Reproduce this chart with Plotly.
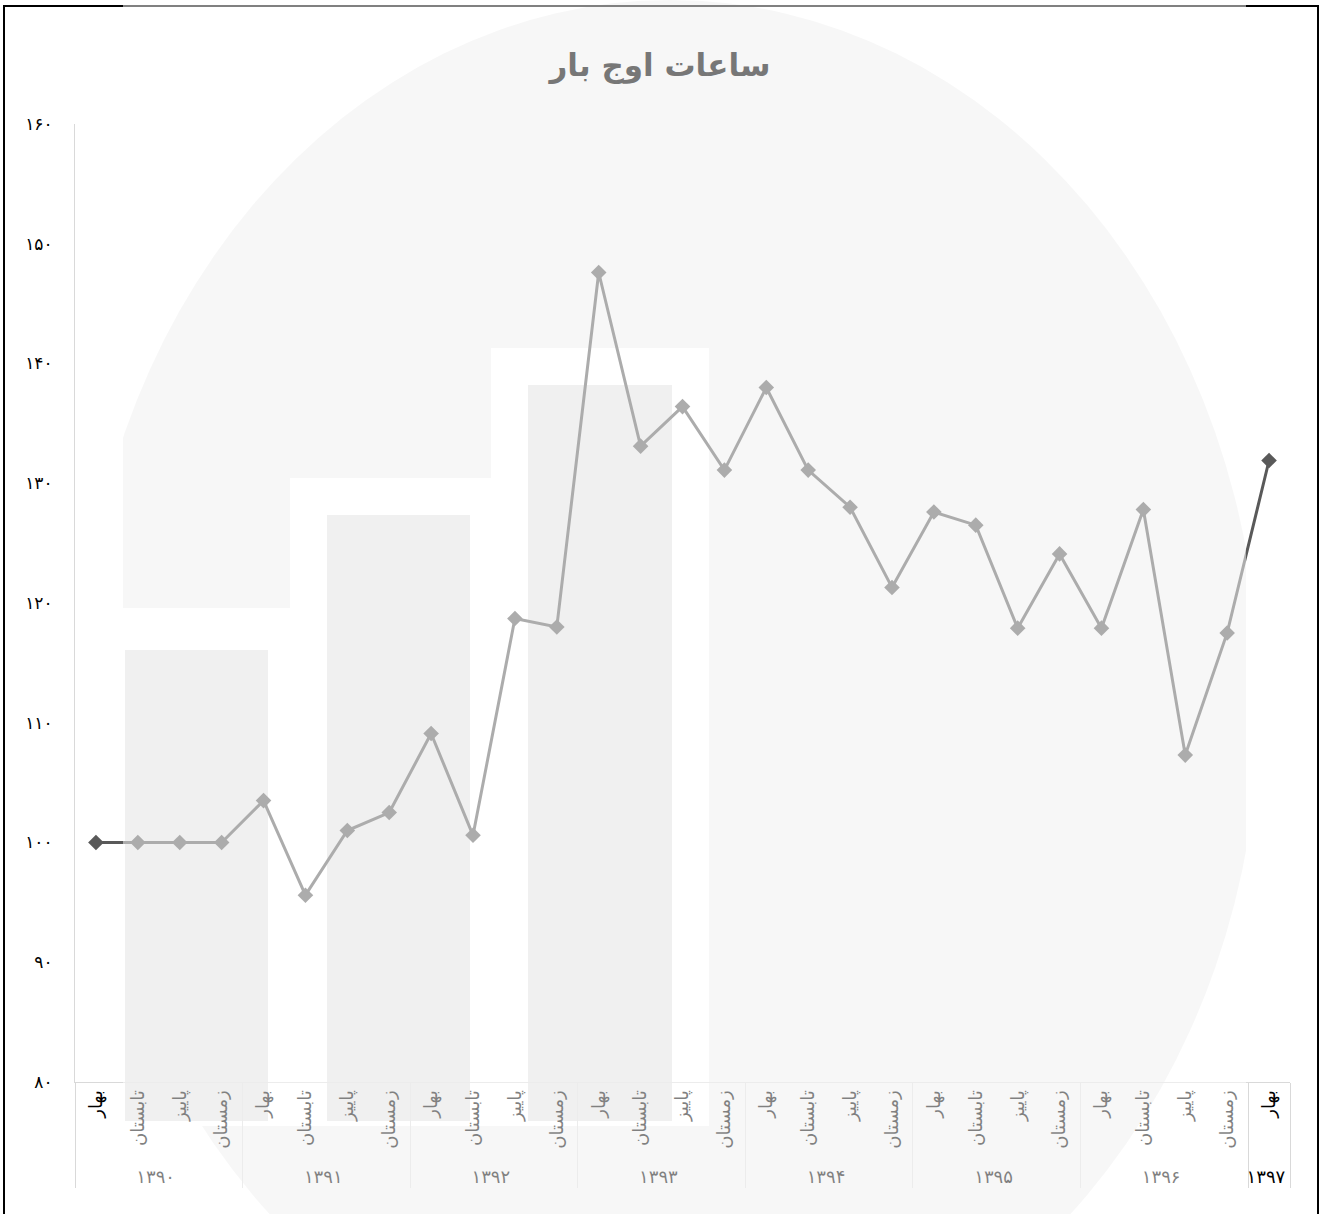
import plotly.graph_objects as go

# ---- data ----
years = ["۱۳۹۰", "۱۳۹۱", "۱۳۹۲", "۱۳۹۳", "۱۳۹۴", "۱۳۹۵", "۱۳۹۶", "۱۳۹۷"]
seasons = ["بهار", "تابستان", "پاییز", "زمستان"]
values = [100.0, 100.0, 100.0, 100.0,
          103.5, 95.6, 101.0, 102.5,
          109.1, 100.6, 118.7, 118.0,
          147.6, 133.1, 136.4, 131.1,
          138.0, 131.1, 128.0, 121.3,
          127.6, 126.5, 117.9, 124.1,
          117.9, 127.8, 107.3, 117.5,
          131.9]
y_tickvals = [80, 90, 100, 110, 120, 130, 140, 150, 160]
y_ticktext = ["۸۰", "۹۰", "۱۰۰", "۱۱۰", "۱۲۰", "۱۳۰", "۱۴۰", "۱۵۰", "۱۶۰"]
title_text = "ساعات اوج بار"

# build multicategory x from years/seasons
x_year, x_season = [], []
for i in range(len(values)):
    x_year.append(years[i // 4])
    x_season.append(seasons[i % 4])

W, H = 1320, 1214
L, R, T, B = 75, 30, 124, 132
PW, PH = W - L - R, H - T - B


def px(p):
    return (p - L) / PW


def py(p):
    return (H - B - p) / PH


FONT = "DejaVu Sans"

fig = go.Figure()
fig.add_trace(go.Scatter(
    x=[x_year, x_season], y=values, mode="lines+markers",
    line=dict(color="#595959", width=3),
    marker=dict(symbol="diamond", size=12, color="#595959"),
    showlegend=False, hoverinfo="skip"))

shapes = []
# watermark (below traces)
shapes.append(dict(type="circle", xref="paper", yref="paper", layer="below",
                   x0=px(80), x1=px(1260), y0=py(1400), y1=py(0),
                   fillcolor="rgb(239,239,239)", line=dict(width=0)))
frames = [(118, 305, 608), (290, 507, 478), (491, 709, 348)]
inner = [(125, 268, 650), (327, 470, 515), (528, 672, 385)]
for x0, x1, top in frames:
    shapes.append(dict(type="rect", xref="paper", yref="paper", layer="below",
                       x0=px(x0), x1=px(x1), y0=py(1126), y1=py(top),
                       fillcolor="white", line=dict(width=0)))
for x0, x1, top in inner:
    shapes.append(dict(type="rect", xref="paper", yref="paper", layer="below",
                       x0=px(x0), x1=px(x1), y0=py(1121), y1=py(top),
                       fillcolor="rgb(225,225,225)", line=dict(width=0)))
# clip sides of watermark
shapes.append(dict(type="rect", xref="paper", yref="paper", layer="below",
                   x0=px(0), x1=px(123), y0=py(H), y1=py(0),
                   fillcolor="white", line=dict(width=0)))
shapes.append(dict(type="rect", xref="paper", yref="paper", layer="below",
                   x0=px(1246), x1=px(W), y0=py(H), y1=py(0),
                   fillcolor="white", line=dict(width=0)))
# outer border
shapes.append(dict(type="rect", xref="paper", yref="paper", layer="below",
                   x0=px(4), x1=px(1318), y0=py(1240), y1=py(6),
                   fillcolor="rgba(0,0,0,0)", line=dict(color="black", width=2)))
# translucent watermark veil (above everything in the plot)
shapes.append(dict(type="rect", xref="paper", yref="paper", layer="above",
                   x0=px(123), x1=px(1246), y0=py(H), y1=py(0),
                   fillcolor="white", opacity=0.5, line=dict(width=0)))

fig.update_layout(
    width=W, height=H,
    margin=dict(l=L, r=R, t=T, b=B),
    paper_bgcolor="white", plot_bgcolor="rgba(0,0,0,0)",
    title=dict(text="<b>" + title_text + "</b>", x=0.5, xanchor="center",
               y=1 - 65 / H, yanchor="middle", yref="container",
               font=dict(family=FONT, size=31, color="#777777")),
    font=dict(family=FONT, color="black"),
    shapes=shapes,
    xaxis=dict(type="multicategory", range=[-0.5, len(values) - 0.5],
               showline=True, linecolor="#d9d9d9", linewidth=1,
               showgrid=False, zeroline=False, ticks="", tickangle=-90,
               showdividers=True, dividercolor="#d9d9d9", dividerwidth=1,
               tickfont=dict(family=FONT, size=18, color="black")),
    yaxis=dict(range=[80, 160], tickvals=y_tickvals, ticktext=y_ticktext,
               showline=True, linecolor="#d9d9d9", linewidth=1,
               showgrid=False, zeroline=False, ticks="", ticklabelstandoff=18,
               tickfont=dict(family=FONT, size=17, color="black")),
)

fig.write_html("out.html", config={"displayModeBar": False},
               post_script="document.body.style.margin='0';document.body.style.overflow='hidden';")
